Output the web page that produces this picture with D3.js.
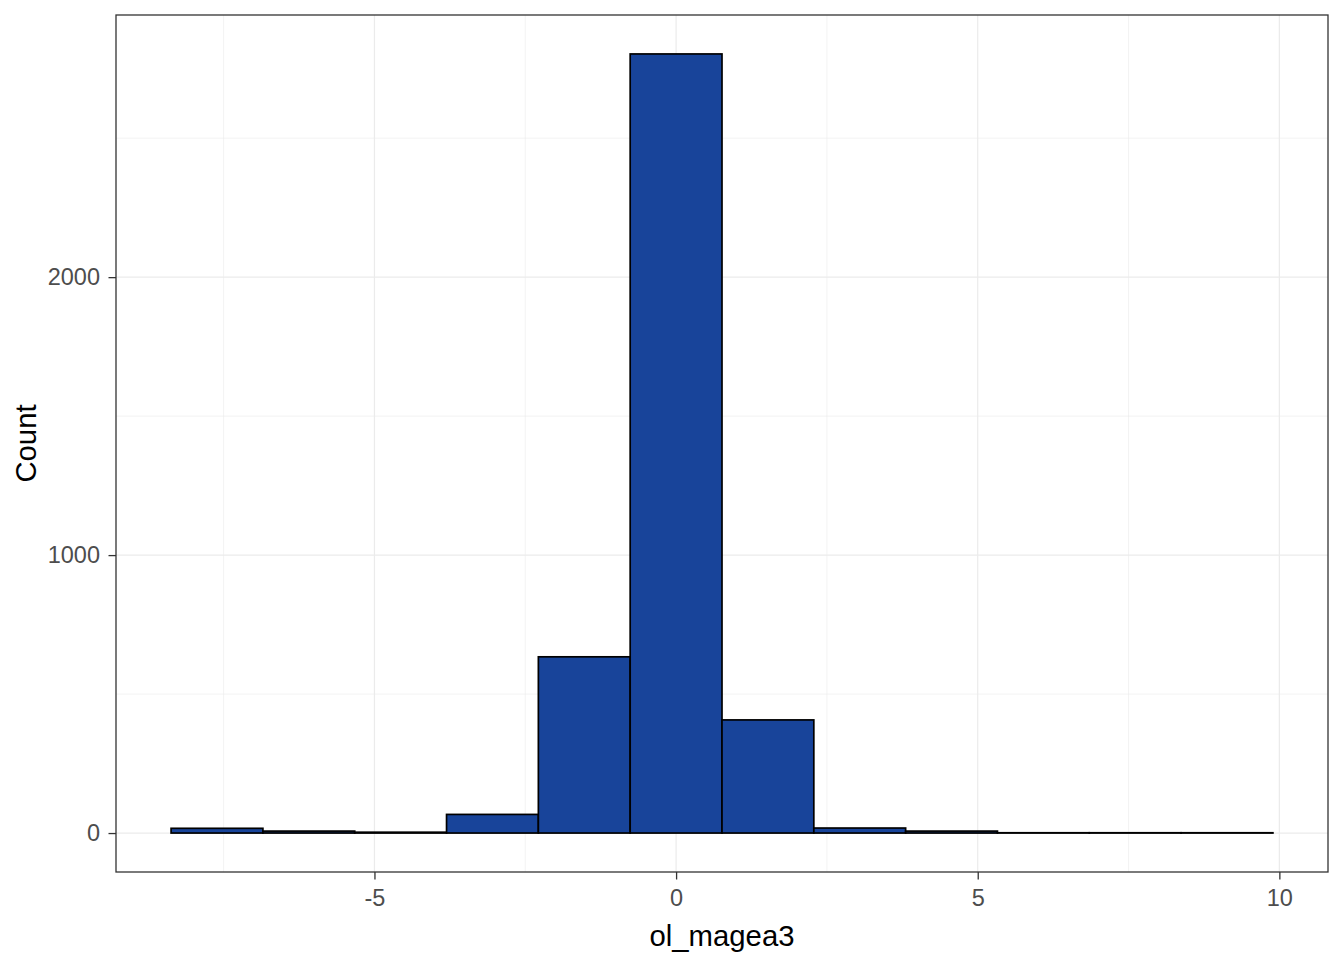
<!DOCTYPE html>
<html>
<head>
<meta charset="utf-8">
<script src="https://cdn.jsdelivr.net/npm/d3@7"></script>
<style>
html,body{margin:0;padding:0;background:#fff;}
svg{display:block;font-family:"Liberation Sans",Arial,sans-serif;}
</style>
</head>
<body>
<svg id="chart" width="1344" height="960"></svg>
<script>
// Data
const binCenters = [-5, -4, -3, -2, -1, 0, 1, 2, 3, 4, 5, 6]; // in units of bin width
const binWidth = 1.522;
const counts = [17, 7, 3, 67, 634, 2803, 407, 18, 7, 1, 1, 1];
const xTicks = [-5, 0, 5, 10];
const xMinor = [-7.5, -2.5, 2.5, 7.5];
const yTicks = [0, 1000, 2000];
const yMinor = [500, 1500, 2500];
const xTitle = "ol_magea3";
const yTitle = "Count";

(function () {
const svg = d3.select("#chart");
const pl = 116, pr = 1328, pt = 15, pb = 872;
const font = '"Liberation Sans",Arial,sans-serif';

const bins = binCenters.map((c, i) => ({
  x0: c * binWidth - binWidth / 2,
  x1: c * binWidth + binWidth / 2,
  n: counts[i]
}));
const xmin = d3.min(bins, d => d.x0), xmax = d3.max(bins, d => d.x1);
const xpad = (xmax - xmin) * 0.05;
const ymax = d3.max(counts), ypad = ymax * 0.05;

const x = d3.scaleLinear().domain([xmin - xpad, xmax + xpad]).range([pl, pr]);
const y = d3.scaleLinear().domain([-ypad, ymax + ypad]).range([pb, pt]);

// grid
const g = svg.append("g");
g.selectAll(".xmin").data(xMinor).join("line")
  .attr("x1", d => x(d)).attr("x2", d => x(d)).attr("y1", pt).attr("y2", pb)
  .attr("stroke", "#EBEBEB").attr("stroke-width", 0.6);
g.selectAll(".ymin").data(yMinor).join("line")
  .attr("y1", d => y(d)).attr("y2", d => y(d)).attr("x1", pl).attr("x2", pr)
  .attr("stroke", "#EBEBEB").attr("stroke-width", 0.6);
g.selectAll(".xmaj").data(xTicks).join("line")
  .attr("x1", d => x(d)).attr("x2", d => x(d)).attr("y1", pt).attr("y2", pb)
  .attr("stroke", "#EBEBEB").attr("stroke-width", 1.2);
g.selectAll(".ymaj").data(yTicks).join("line")
  .attr("y1", d => y(d)).attr("y2", d => y(d)).attr("x1", pl).attr("x2", pr)
  .attr("stroke", "#EBEBEB").attr("stroke-width", 1.2);

// bars
svg.append("g").selectAll("rect").data(bins).join("rect")
  .attr("x", d => x(d.x0))
  .attr("width", d => x(d.x1) - x(d.x0))
  .attr("y", d => y(d.n))
  .attr("height", d => y(0) - y(d.n))
  .attr("fill", "#18449A")
  .attr("stroke", "#000")
  .attr("stroke-width", 1.7);

// panel border
svg.append("rect").attr("x", pl).attr("y", pt)
  .attr("width", pr - pl).attr("height", pb - pt)
  .attr("fill", "none").attr("stroke", "#333333").attr("stroke-width", 1.3);

// axes
const fmt = d => String(d);
const xAxis = svg.append("g").attr("transform", `translate(0,${pb})`)
  .call(d3.axisBottom(x).tickValues(xTicks).tickSize(7.5).tickPadding(10).tickFormat(fmt));
const yAxis = svg.append("g").attr("transform", `translate(${pl},0)`)
  .call(d3.axisLeft(y).tickValues(yTicks).tickSize(7.5).tickPadding(8.5).tickFormat(fmt));
[xAxis, yAxis].forEach(a => {
  a.select(".domain").remove();
  a.attr("font-size", null).attr("font-family", null);
  a.selectAll(".tick line").attr("stroke", "#333333").attr("stroke-width", 1.3);
  a.selectAll(".tick text").attr("fill", "#4D4D4D")
    .style("font-size", "23.5px").style("font-family", font);
});

// titles
svg.append("text").attr("x", (pl + pr) / 2).attr("y", 945.5)
  .attr("text-anchor", "middle").style("font-size", "29.3px").style("font-family", font)
  .attr("fill", "#000").text(xTitle);
svg.append("text").attr("transform", `translate(36,${(pt + pb) / 2}) rotate(-90)`)
  .attr("text-anchor", "middle").style("font-size", "29.3px").style("font-family", font)
  .attr("fill", "#000").text(yTitle);
})();
</script>
</body>
</html>
